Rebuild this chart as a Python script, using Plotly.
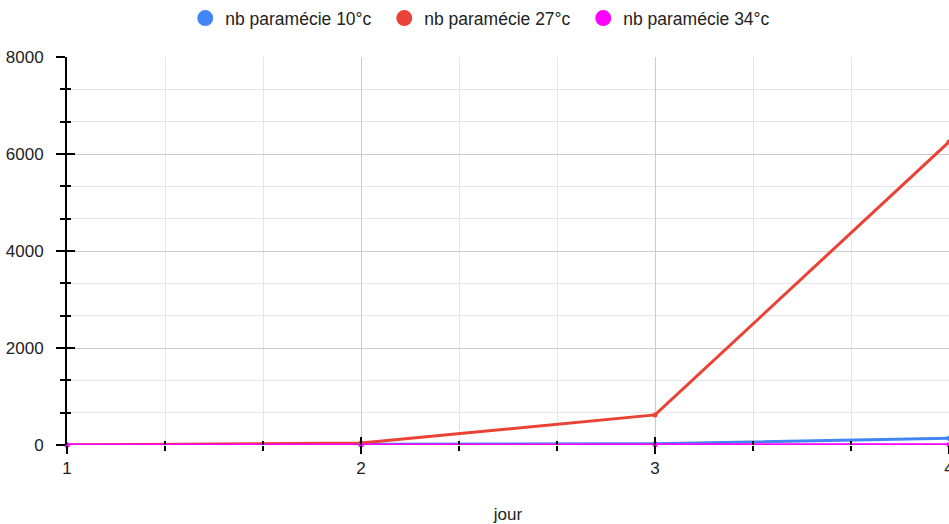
import plotly.graph_objects as go

jours = [1, 2, 3, 4]
series_names = ["nb paramécie 10°c", "nb paramécie 27°c", "nb paramécie 34°c"]
val_10 = [0, 5, 25, 140]
val_27 = [0, 40, 620, 6250]
val_34 = [0, 2, 3, 5]
colors = ["#4285F4", "#EA4335", "#FF00FF"]

fig = go.Figure()
for name, vals, c in zip(series_names, [val_10, val_27, val_34], colors):
    fig.add_trace(go.Scatter(x=jours, y=vals, mode="lines+markers", name=name,
                             line=dict(color=c, width=3), marker=dict(size=5, color=c),
                             showlegend=False, cliponaxis=False))
for name, c in zip(series_names, colors):
    fig.add_trace(go.Scatter(x=[None], y=[None], mode="markers", name=name,
                             marker=dict(size=17, color=c)))

fig.add_trace(go.Scatter(x=[None], y=[None], xaxis="x2", yaxis="y2", showlegend=False))

font = dict(family="Liberation Sans, Arial, sans-serif", size=17, color="#222")
fig.update_layout(
    width=949, height=524,
    margin=dict(l=67, r=0, t=57, b=79, autoexpand=False),
    paper_bgcolor="white", plot_bgcolor="white",
    font=font,
    legend=dict(orientation="h", x=0.4725, xanchor="center", y=1.10, yanchor="middle",
                font=dict(size=17.5, color="#222"), itemsizing="trace",
                entrywidth=154, entrywidthmode="pixels"),
    xaxis=dict(range=[1, 4], dtick=1, tick0=1, showgrid=True, gridcolor="#cccccc",
               zeroline=False, showline=False, ticks="outside", ticklen=8, tickcolor="black",
               tickwidth=1.5, automargin=False, ticklabeloverflow="allow",
               minor=dict(dtick=1/3, tick0=1, showgrid=True, gridcolor="#e6e6e6",
                          ticks="outside", ticklen=5, tickcolor="black"),
               title=dict(text="jour", standoff=32, font=dict(size=17)), tickfont=font),
    yaxis=dict(range=[0, 8000], dtick=2000, showgrid=True, gridcolor="#cccccc",
               zeroline=False, showline=True, linecolor="black", linewidth=2,
               ticks="outside", ticklen=9, tickcolor="black", tickwidth=1.5, automargin=False,
               ticklabelstandoff=9, ticklabeloverflow="allow",
               minor=dict(dtick=2000/3, showgrid=True, gridcolor="#e6e6e6",
                          ticks="outside", ticklen=5, tickcolor="black"),
               tickfont=font),
    xaxis2=dict(range=[1, 4], overlaying="x", dtick=1, tick0=1, showgrid=False,
                zeroline=False, showticklabels=False, ticks="inside", ticklen=8,
                tickcolor="black", tickwidth=1.5, side="bottom", automargin=False,
                minor=dict(dtick=1/3, tick0=1, ticks="inside", ticklen=4, tickcolor="black")),
    yaxis2=dict(range=[0, 8000], overlaying="y", dtick=2000, showgrid=False,
                zeroline=False, showticklabels=False, ticks="inside", ticklen=8,
                tickcolor="black", tickwidth=1.5, side="left", automargin=False,
                minor=dict(dtick=2000/3, ticks="inside", ticklen=4, tickcolor="black")),
)
fig.write_html("out.html", config={"displayModeBar": False},
               post_script="document.body.style.margin='0';document.body.style.overflow='hidden';")
